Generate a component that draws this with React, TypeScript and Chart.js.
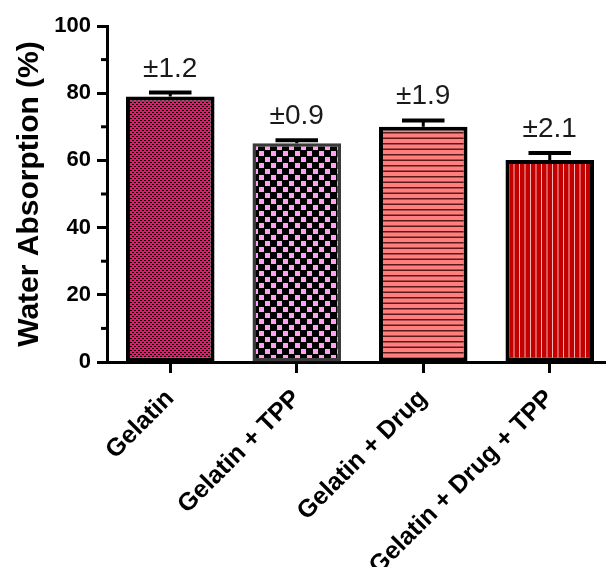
import React, { useEffect, useRef } from 'react';
import { Chart, registerables } from 'chart.js';
Chart.register(...registerables);

const categories = ['Gelatin', 'Gelatin + TPP', 'Gelatin + Drug', 'Gelatin + Drug + TPP'];
const values = [79.0, 65.1, 70.0, 60.1];
const errors = [1.2, 0.9, 1.9, 2.1];
const yTickStep = 20;
const minorTicks = [10, 30, 50, 70, 90];
const borderColors = ['#000000', '#3a3a3a', '#000000', '#000000'];

const W = 640;
const H = 640;
const FONT = '"Liberation Sans", Arial, Helvetica, sans-serif';

function makePattern(kind: number): CanvasPattern | string {
  const c = document.createElement('canvas');
  const g = c.getContext('2d');
  if (!g) return '#f00';
  if (kind === 0) {
    c.width = 4; c.height = 4;
    g.fillStyle = '#ff0a6c'; g.fillRect(0, 0, 4, 4);
    g.fillStyle = '#000000';
    g.fillRect(0, 0, 2, 1); g.fillRect(2, 2, 2, 1);
  } else if (kind === 1) {
    c.width = 12; c.height = 12;
    g.fillStyle = '#000000'; g.fillRect(0, 0, 12, 12);
    g.fillStyle = '#ffa2ef';
    g.fillRect(1, 1, 5, 5); g.fillRect(7, 7, 5, 5);
  } else if (kind === 2) {
    c.width = 8; c.height = 11;
    g.fillStyle = '#ff7f7f'; g.fillRect(0, 0, 8, 11);
    g.fillStyle = '#5a1a1a';
    g.fillRect(0, 0, 8, 1.5); g.fillRect(0, 5.5, 8, 1.5);
  } else {
    c.width = 11; c.height = 8;
    g.fillStyle = '#c20000'; g.fillRect(0, 0, 11, 8);
    g.fillStyle = '#f2b4b4';
    g.fillRect(2, 0, 1, 8); g.fillRect(7.5, 0, 1, 8);
  }
  const p = g.createPattern(c, 'repeat');
  return p || '#f00';
}

const extrasPlugin = {
  id: 'extras',
  afterDatasetsDraw(chart: any) {
    const { ctx, chartArea } = chart;
    const y = chart.scales.y;
    const meta = chart.getDatasetMeta(0);
    ctx.save();
    ctx.strokeStyle = '#000000';
    meta.data.forEach((bar: any, i: number) => {
      const x = bar.x;
      const w = bar.width;
      const base = y.getPixelForValue(values[i]);
      const top = y.getPixelForValue(values[i] + errors[i]);
      ctx.lineWidth = 3;
      ctx.beginPath();
      ctx.moveTo(x, base);
      ctx.lineTo(x, top);
      ctx.stroke();
      ctx.lineWidth = 4;
      ctx.beginPath();
      ctx.moveTo(x - w * 0.24, top);
      ctx.lineTo(x + w * 0.24, top);
      ctx.stroke();
      ctx.fillStyle = '#1a1a1a';
      ctx.font = `28px ${FONT}`;
      ctx.textAlign = 'center';
      ctx.textBaseline = 'alphabetic';
      ctx.fillText('±' + errors[i].toFixed(1), x, top - 16);
    });
    ctx.lineWidth = 3;
    minorTicks.forEach((v) => {
      const py = y.getPixelForValue(v);
      ctx.beginPath();
      ctx.moveTo(chartArea.left - 6, py);
      ctx.lineTo(chartArea.left, py);
      ctx.stroke();
    });
    ctx.restore();
  },
};

export default function App() {
  const ref = useRef<HTMLCanvasElement>(null);
  useEffect(() => {
    if (!ref.current) return;
    const patterns = [0, 1, 2, 3].map(makePattern);
    const chart = new Chart(ref.current, {
      type: 'bar',
      data: {
        labels: categories,
        datasets: [
          {
            data: values,
            backgroundColor: patterns as any,
            borderColor: borderColors,
            borderWidth: [4, 3.5, 4, 4],
            borderSkipped: false,
            barPercentage: 0.7,
            categoryPercentage: 1.0,
          },
        ],
      },
      options: {
        responsive: false,
        animation: false,
        devicePixelRatio: 1,
        layout: { padding: { left: 0, right: W - 613, top: 26, bottom: 0 } },
        plugins: { legend: { display: false }, tooltip: { enabled: false } },
        scales: {
          x: {
            grid: {
              display: true,
              drawOnChartArea: false,
              drawTicks: true,
              tickLength: 11,
              tickWidth: 3,
              tickColor: '#000000',
              offset: false,
            },
            border: { display: true, width: 3, color: '#000000' },
            ticks: {
              color: '#000000',
              font: { family: FONT, size: 25, weight: 'bold' },
              minRotation: 45,
              maxRotation: 45,
              autoSkip: false,
              padding: 11,
            },
            afterFit: (s: any) => {
              s.height = H - 362;
            },
          },
          y: {
            min: 0,
            max: 100,
            ticks: {
              stepSize: yTickStep,
              color: '#000000',
              font: { family: FONT, size: 22, weight: 'bold' },
              padding: 6,
            },
            grid: {
              drawOnChartArea: false,
              tickLength: 10,
              tickWidth: 3,
              tickColor: '#000000',
            },
            border: { display: true, width: 3, color: '#000000' },
            title: {
              display: true,
              text: 'Water Absorption (%)',
              color: '#000000',
              font: { family: FONT, size: 30, weight: 'bold' },
              padding: { top: 12, bottom: 0 },
            },
            afterFit: (s: any) => {
              s.width = 107;
            },
          },
        },
      } as any,
      plugins: [extrasPlugin],
    });
    return () => chart.destroy();
  }, []);
  return (
    <div
      style={{
        position: 'fixed',
        left: 0,
        top: 0,
        width: 606,
        height: 567,
        overflow: 'hidden',
        background: '#ffffff',
      }}
    >
      <canvas ref={ref} width={W} height={H} style={{ display: 'block' }} />
    </div>
  );
}
